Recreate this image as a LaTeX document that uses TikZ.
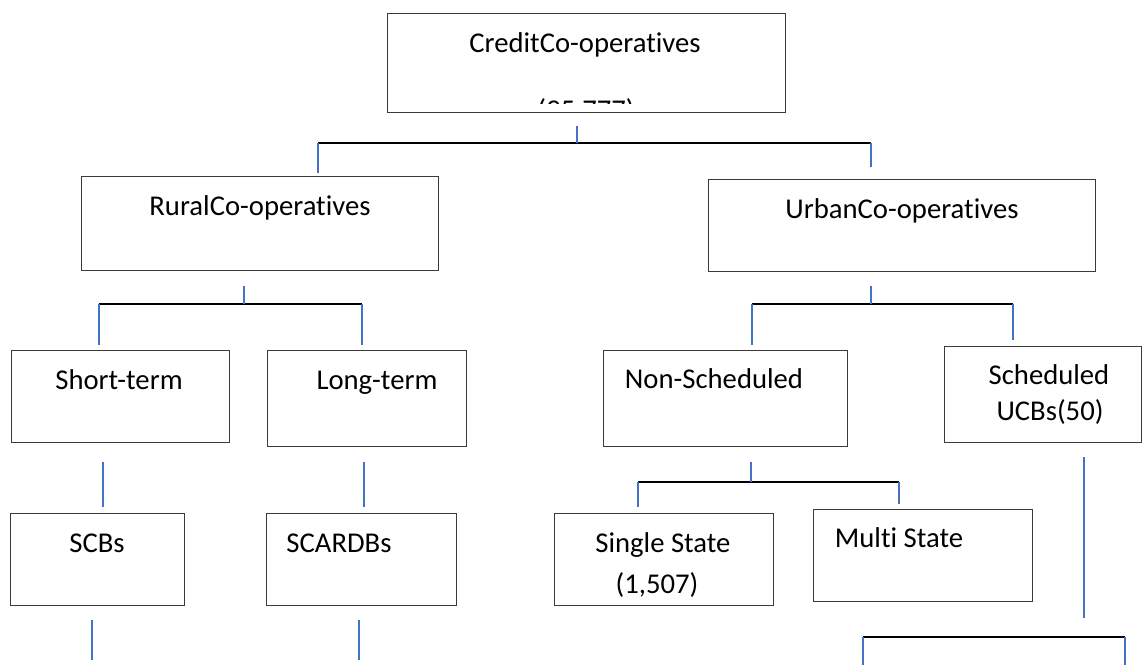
\documentclass[tikz,border=0pt]{standalone}
\usepackage{fontspec}
\setmainfont[Ligatures=NoCommon]{Carlito}
\usepackage{xcolor}
\usepackage{tikz}
\usetikzlibrary{positioning}
\definecolor{Ink}{HTML}{000000}
\definecolor{Edge}{HTML}{3A3A3A}
\definecolor{Stem}{HTML}{4472C4}
\tikzset{
  org/.style={
    draw=Edge, line width=1pt, rectangle, inner sep=0pt, anchor=north west
  },
  orgText/.style={font=\fontsize{21.5}{26}\selectfont, anchor=base, inner sep=0pt},
  stem/.style={draw=Stem, line width=1.1pt},
  bar/.style={draw=Ink, line width=1.5pt}
}

\begin{document}
\begin{tikzpicture}[x=0.75pt,y=-0.75pt]
  \useasboundingbox (0,0) rectangle (1143,665);

  % boxes
  \node[org,minimum width=298.5pt,minimum height=74.25pt] (credit) at (387,13) {};
  \node[org,minimum width=267.75pt,minimum height=70.5pt] (rural) at (81,176) {};
  \node[org,minimum width=290.25pt,minimum height=69pt] (urban) at (708,179) {};
  \node[org,minimum width=163.5pt,minimum height=69pt] (short) at (11,350) {};
  \node[org,minimum width=149.25pt,minimum height=72pt] (long) at (267,350) {};
  \node[org,minimum width=183pt,minimum height=72pt] (nonsch) at (603,350) {};
  \node[org,minimum width=147.75pt,minimum height=72pt] (sched) at (944,346) {};
  \node[org,minimum width=130.5pt,minimum height=69pt] (scbs) at (10,513) {};
  \node[org,minimum width=142.5pt,minimum height=69pt] (scardbs) at (266,513) {};
  \node[org,minimum width=164.25pt,minimum height=69pt] (single) at (554,513) {};
  \node[org,minimum width=164.25pt,minimum height=69pt] (multi) at (813,509) {};

  % texts
  \node[orgText] (creditT) at (585,52) {CreditCo-operatives};
  \begin{scope}
    \clip (credit.north west) rectangle (785,103);
    \node[orgText] (creditN) at (586,119) {(95,777)};
  \end{scope}
  \node[orgText] (ruralT) at (260,215) {RuralCo-operatives};
  \node[orgText] (urbanT) at (902,218) {UrbanCo-operatives};
  \node[orgText] (shortT) at (119,389) {Short-term};
  \node[orgText] (longT) at (377,389) {Long-term};
  \node[orgText] (nonschT) at (714,388) {Non-Scheduled};
  \node[orgText] (schedT) at (1049,384) {Scheduled};
  \node[orgText] (schedN) at (1050,420) {UCBs(50)};
  \node[orgText] (scbsT) at (97,552) {SCBs};
  \node[orgText] (scardbsT) at (339,552) {SCARDBs};
  \node[orgText] (singleT) at (663,552) {Single State};
  \node[orgText] (singleN) at (657,593) {(1,507)};
  \node[orgText] (multiT) at (899,547) {Multi State};

  % joints
  \coordinate (c0) at (577,126);  \coordinate (c1) at (577,143);
  \coordinate (cL) at (318,143);  \coordinate (cR) at (871,143);
  \coordinate (cL2) at (318,173); \coordinate (cR2) at (871,167);

  \coordinate (r0) at (244,286);  \coordinate (r1) at (244,304);
  \coordinate (rL) at (99,304);   \coordinate (rR) at (362,304);
  \coordinate (rL2) at (99,345);  \coordinate (rR2) at (362,345);

  \coordinate (u0) at (871,286);  \coordinate (u1) at (871,304);
  \coordinate (uL) at (752,304);  \coordinate (uR) at (1013,304);
  \coordinate (uL2) at (752,345); \coordinate (uR2) at (1013,340);

  \coordinate (s0) at (103,462);  \coordinate (s1) at (103,507);
  \coordinate (l0) at (364,462);  \coordinate (l1) at (364,507);

  \coordinate (n0) at (751,462);  \coordinate (n1) at (751,482);
  \coordinate (nL) at (638,482);  \coordinate (nR) at (899,482);
  \coordinate (nL2) at (638,507); \coordinate (nR2) at (899,504);

  \coordinate (k0) at (1084,457); \coordinate (k1) at (1084,618);
  \coordinate (kL) at (863,637);  \coordinate (kR) at (1125,637);
  \coordinate (kL2) at (863,665); \coordinate (kR2) at (1125,665);

  \coordinate (b0) at (92,620);   \coordinate (b1) at (92,660);
  \coordinate (d0) at (359,620);  \coordinate (d1) at (359,660);

  % connectors
  \draw[bar] (cL)--(cR);
  \draw[stem] (c0)--(c1);
  \draw[stem] (cL)--(cL2);
  \draw[stem] (cR)--(cR2);

  \draw[bar] (rL)--(rR);
  \draw[stem] (r0)--(r1);
  \draw[stem] (rL)--(rL2);
  \draw[stem] (rR)--(rR2);

  \draw[bar] (uL)--(uR);
  \draw[stem] (u0)--(u1);
  \draw[stem] (uL)--(uL2);
  \draw[stem] (uR)--(uR2);

  \draw[stem] (s0)--(s1);
  \draw[stem] (l0)--(l1);

  \draw[bar] (nL)--(nR);
  \draw[stem] (n0)--(n1);
  \draw[stem] (nL)--(nL2);
  \draw[stem] (nR)--(nR2);

  \draw[stem] (k0)--(k1);
  \draw[bar] (kL)--(kR);
  \draw[stem] (kL)--(kL2);
  \draw[stem] (kR)--(kR2);

  \draw[stem] (b0)--(b1);
  \draw[stem] (d0)--(d1);
\end{tikzpicture}
\end{document}
